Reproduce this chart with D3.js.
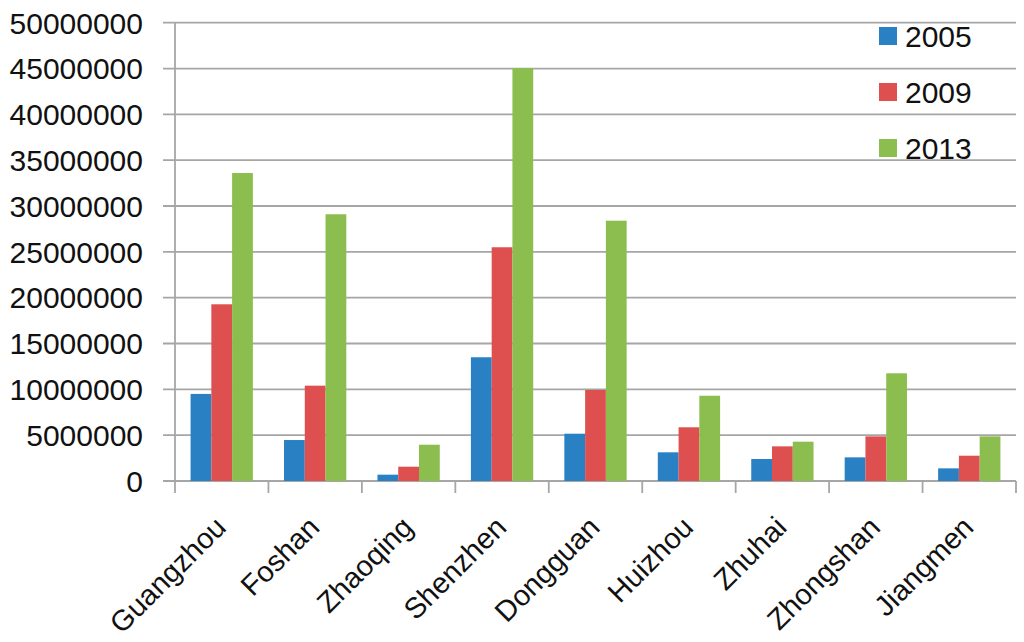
<!DOCTYPE html>
<html><head><meta charset="utf-8">
<script src="https://cdn.jsdelivr.net/npm/d3@7"></script>
<style>body{margin:0;background:#fff}svg{display:block}</style>
</head><body><svg id="c" width="1024" height="642"></svg>
<script>
const categories = ["Guangzhou","Foshan","Zhaoqing","Shenzhen","Dongguan","Huizhou","Zhuhai","Zhongshan","Jiangmen"];
const seriesNames = ["2005","2009","2013"];
const v2005 = [9500000,4470000,690000,13500000,5160000,3130000,2400000,2580000,1380000];
const v2009 = [19280000,10400000,1560000,25500000,9930000,5860000,3780000,4870000,2760000];
const v2013 = [33600000,29100000,3960000,45050000,28400000,9300000,4290000,11750000,4870000];
const yTicks = [0,5000000,10000000,15000000,20000000,25000000,30000000,35000000,40000000,45000000,50000000];
const colors = ["#2980c3","#de4f4f","#8cbd4f"];
const seriesVals = [v2005,v2009,v2013];

const svg = d3.select("#c");
const L = 175, R = 1016, T = 22.7, B = 481;
const font = "'Liberation Sans', Arial, sans-serif";
const x0 = d3.scaleBand().domain(categories).range([L,R]).paddingInner(0).paddingOuter(0);
const x1 = d3.scaleBand().domain(seriesNames).range([0,x0.bandwidth()]).paddingInner(0).paddingOuter(0.75);
const y = d3.scaleLinear().domain([0,50000000]).range([B,T]);
const grid = "#a6a6a6";

// gridlines
svg.append("g").selectAll("line").data(yTicks).join("line")
  .attr("x1",L-12).attr("x2",R).attr("y1",d=>y(d)).attr("y2",d=>y(d))
  .attr("stroke",grid).attr("stroke-width",1.8);

// y axis line
svg.append("line").attr("x1",L).attr("x2",L).attr("y1",T).attr("y2",B)
  .attr("stroke",grid).attr("stroke-width",1.8);

// y labels
svg.append("g").selectAll("text").data(yTicks).join("text")
  .attr("x",143).attr("y",d=>y(d)).attr("dy","0.36em")
  .attr("text-anchor","end").attr("font-family",font).attr("font-size",30).attr("fill","#111")
  .text(d=>d3.format("d")(d));

// x ticks
const xt = categories.map(c=>x0(c)).concat([R]);
svg.append("g").selectAll("line").data(xt).join("line")
  .attr("x1",d=>d).attr("x2",d=>d).attr("y1",B).attr("y2",B+12)
  .attr("stroke",grid).attr("stroke-width",1.8);

// bars
const g = svg.append("g");
seriesNames.forEach((s,si)=>{
  g.append("g").selectAll("rect").data(categories).join("rect")
    .attr("x",(c)=>x0(c)+x1(s))
    .attr("width",x1.bandwidth())
    .attr("y",(c,i)=>y(seriesVals[si][i]))
    .attr("height",(c,i)=>B-y(seriesVals[si][i]))
    .attr("fill",colors[si]);
});

// x labels
svg.append("g").selectAll("text").data(categories).join("text")
  .attr("transform",c=>`translate(${x0(c)+x0.bandwidth()/2+6},${B+48}) rotate(-45)`)
  .attr("text-anchor","end").attr("font-family",font).attr("font-size",29).attr("fill","#111")
  .text(c=>c);

// legend
const lg = svg.append("g");
seriesNames.forEach((s,i)=>{
  const cy = 36 + i*56;
  lg.append("rect").attr("x",879).attr("y",cy-9).attr("width",18).attr("height",18).attr("fill",colors[i]);
  lg.append("text").attr("x",905).attr("y",cy).attr("dy","0.36em")
    .attr("font-family",font).attr("font-size",30).attr("fill","#111").text(s);
});
</script></body></html>
